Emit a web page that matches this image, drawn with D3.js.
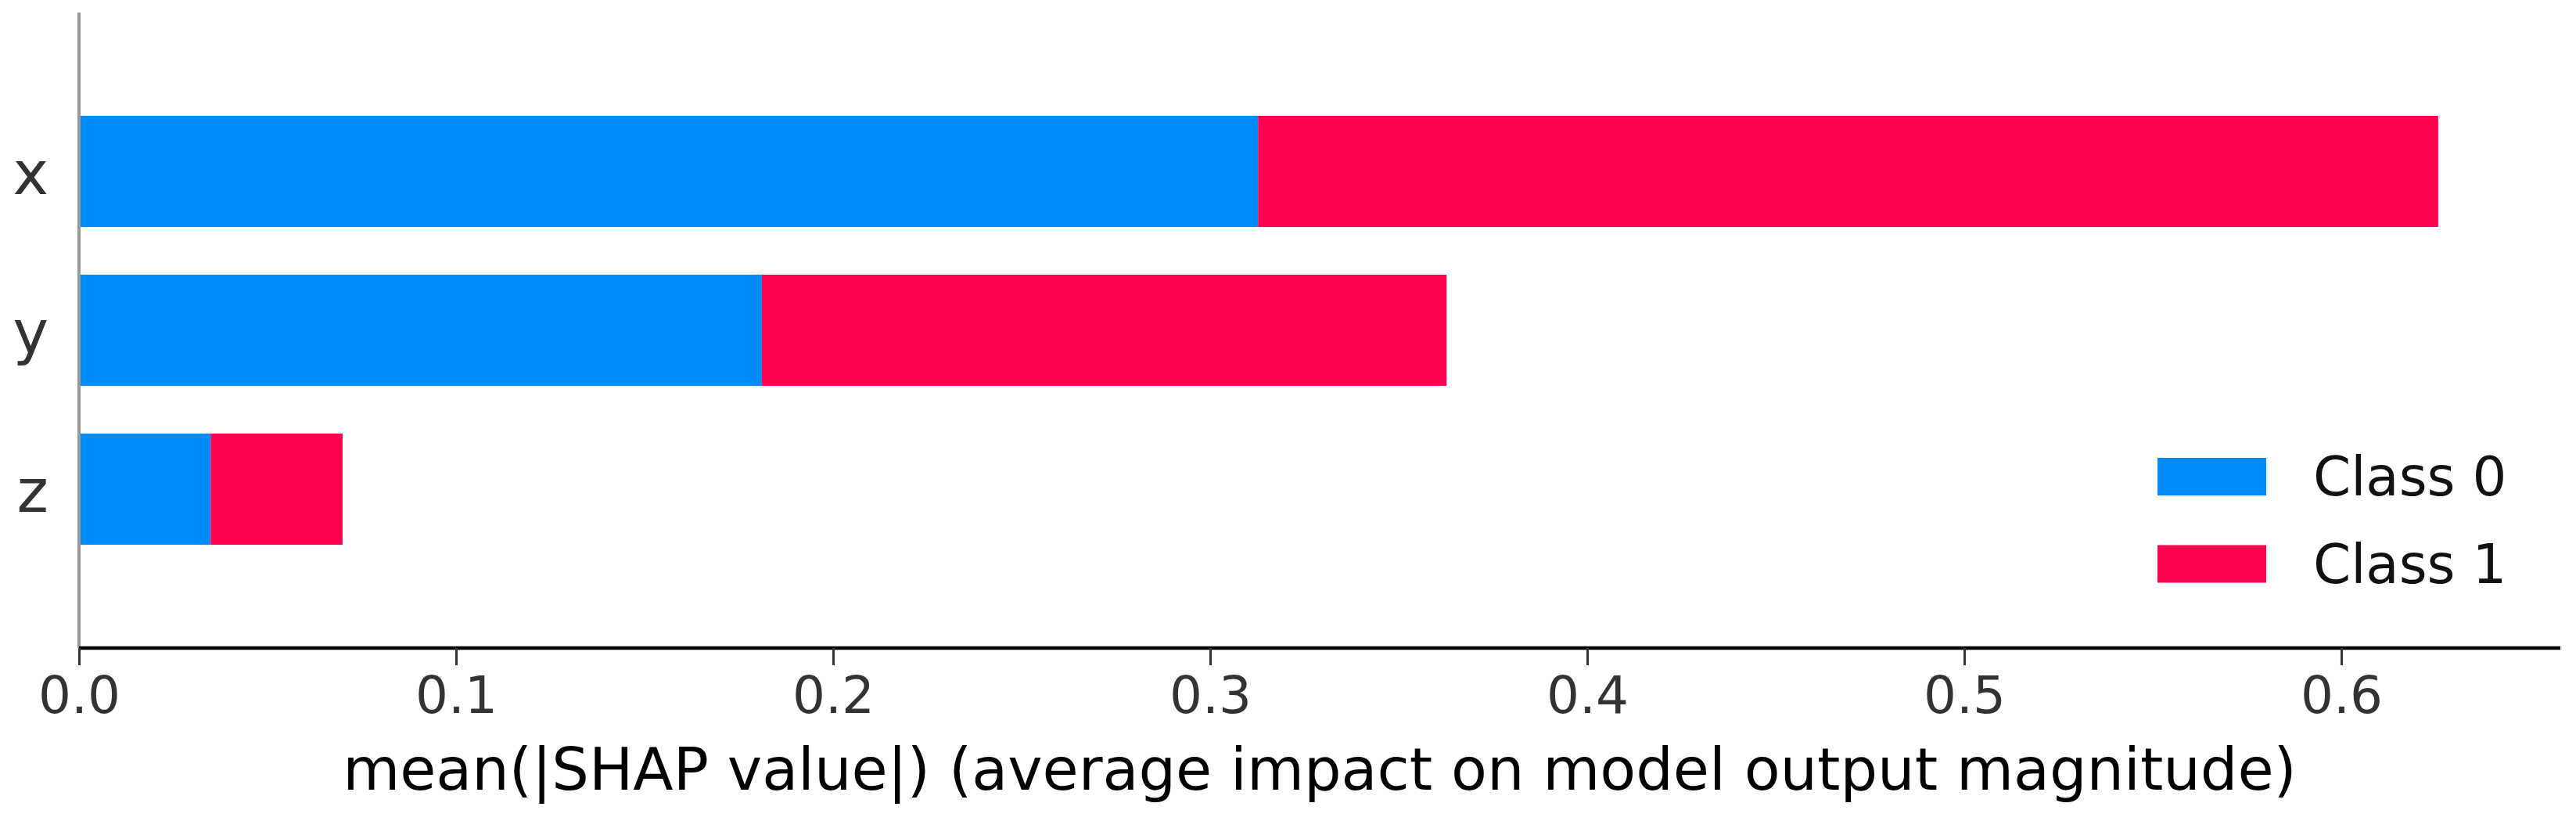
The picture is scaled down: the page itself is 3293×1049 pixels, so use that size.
<!DOCTYPE html>
<html>
<head>
<meta charset="utf-8">
<script src="https://cdn.jsdelivr.net/npm/d3@7"></script>
<style>
  html, body { margin: 0; padding: 0; background: #fff; }
  svg { display: block; font-family: "DejaVu Sans", sans-serif; }
</style>
</head>
<body>
<svg id="chart" width="3293" height="1049"></svg>
<script>
// ---- data ----
const features = ["x", "y", "z"];          // top to bottom
const featurePos = [2, 1, 0];               // matplotlib-style y positions
const classNames = ["Class 0", "Class 1"];
const class0 = [0.3127, 0.1811, 0.0349];
const class1 = [0.3130, 0.1816, 0.0350];
const xTicks = [0.0, 0.1, 0.2, 0.3, 0.4, 0.5, 0.6];
const xLabel = "mean(|SHAP value|) (average impact on model output magnitude)";
const colors = ["#008bfb", "#ff0051"];

(function () {
  // ---- layout ----
  const plotLeft = 101, plotRight = 3273, plotTop = 16, plotBottom = 828;

  const svg = d3.select("#chart");

  const x = d3.scaleLinear().domain([0, 0.6581]).range([plotLeft, plotRight]);
  const y = d3.scaleLinear().domain([-1, 3]).range([plotBottom, plotTop]);
  const barH = y(0) - y(0.7);

  // stacked bars
  const rows = features.map((f, i) => ({ f, pos: featurePos[i], vals: [class0[i], class1[i]] }));
  const g = svg.append("g");
  rows.forEach(r => {
    let acc = 0;
    r.vals.forEach((v, k) => {
      g.append("rect")
        .attr("x", x(acc))
        .attr("y", y(r.pos) - barH / 2)
        .attr("width", x(acc + v) - x(acc))
        .attr("height", barH)
        .attr("fill", colors[k]);
      acc += v;
    });
  });

  // y axis (left spine) + labels
  svg.append("line")
    .attr("x1", plotLeft).attr("x2", plotLeft)
    .attr("y1", plotTop).attr("y2", plotBottom)
    .attr("stroke", "#999").attr("stroke-width", 4);

  svg.append("g").selectAll("text").data(rows).join("text")
    .attr("x", 62)
    .attr("y", d => y(d.pos) + 29)
    .attr("text-anchor", "end")
    .attr("font-size", 77)
    .attr("fill", "#333")
    .text(d => d.f);

  // x axis
  const xAxis = d3.axisBottom(x)
    .tickValues(xTicks)
    .tickFormat(d3.format(".1f"))
    .tickSize(22)
    .tickPadding(14)
    .tickSizeOuter(0);
  const xa = svg.append("g").attr("transform", `translate(0,${plotBottom})`).call(xAxis);
  xa.select(".domain").attr("stroke", "#000").attr("stroke-width", 4.5)
    .attr("d", `M${plotLeft},0H${plotRight}`);
  xa.selectAll(".tick line").attr("stroke", "#333").attr("stroke-width", 3);
  xa.selectAll(".tick text")
    .attr("font-size", 66)
    .attr("font-family", "DejaVu Sans, sans-serif")
    .attr("fill", "#333");

  // x label
  svg.append("text")
    .attr("x", (plotLeft + plotRight) / 2)
    .attr("y", 1009)
    .attr("text-anchor", "middle")
    .attr("font-size", 75)
    .attr("fill", "#000")
    .text(xLabel);

  // legend
  const leg = svg.append("g");
  const legY = [609, 720.5];
  classNames.forEach((c, k) => {
    leg.append("rect")
      .attr("x", 2758).attr("y", legY[k] - 24)
      .attr("width", 139).attr("height", 48)
      .attr("fill", colors[k]);
    leg.append("text")
      .attr("x", 2957).attr("y", legY[k] + 24)
      .attr("font-size", 69)
      .attr("fill", "#111")
      .text(c);
  });
})();
</script>
</body>
</html>
